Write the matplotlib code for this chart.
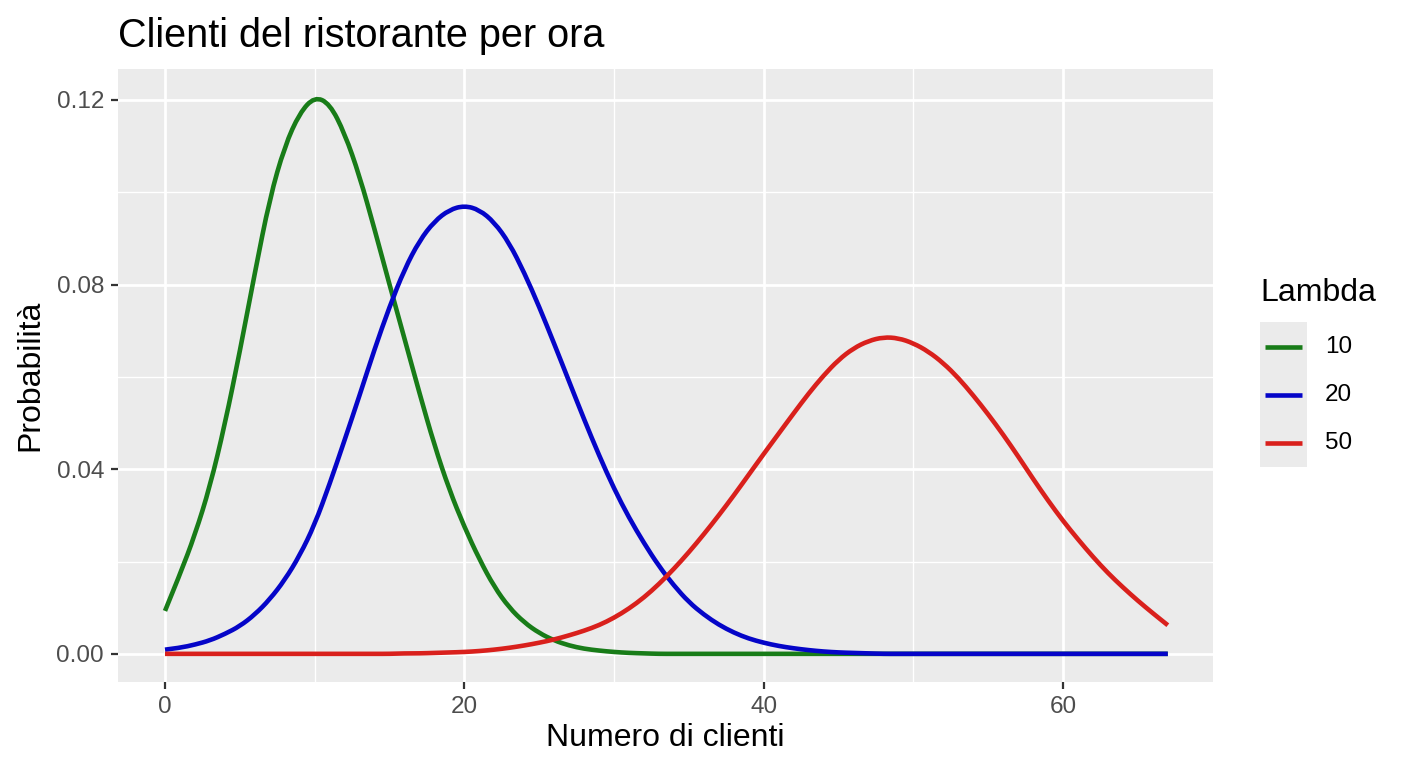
import matplotlib

matplotlib.use("Agg")

import matplotlib.pyplot as plt
from matplotlib.lines import Line2D
from matplotlib.patches import PathPatch, Rectangle
from matplotlib.path import Path
import numpy as np

plt.rcParams["font.family"] = ["Liberation Sans", "DejaVu Sans"]

# values
clienti = list(range(0, 68))

prob_10 = [
    0.0093, 0.0172, 0.0258, 0.0362, 0.0497, 0.0655, 0.0825, 0.0987, 0.1100, 0.1172,
    0.1207, 0.1192, 0.1128, 0.1035, 0.0920, 0.0800, 0.0683, 0.0565, 0.0452, 0.0355,
    0.0275, 0.0205, 0.0145, 0.0100, 0.0068, 0.0045, 0.0029, 0.0018, 0.0011, 0.0007,
    0.0004, 0.0002, 0.0001, 0.0000, 0.0000, 0.0000, 0.0000, 0.0000, 0.0000, 0.0000,
    0.0000, 0.0000, 0.0000, 0.0000, 0.0000, 0.0000, 0.0000, 0.0000, 0.0000, 0.0000,
    0.0000, 0.0000, 0.0000, 0.0000, 0.0000, 0.0000, 0.0000, 0.0000, 0.0000, 0.0000,
    0.0000, 0.0000, 0.0000, 0.0000, 0.0000, 0.0000, 0.0000, 0.0000,
]
prob_20 = [
    0.0009, 0.0013, 0.0020, 0.0029, 0.0043, 0.0060, 0.0085, 0.0118, 0.0160, 0.0213,
    0.0280, 0.0368, 0.0463, 0.0560, 0.0660, 0.0752, 0.0833, 0.0895, 0.0937, 0.0962,
    0.0971, 0.0962, 0.0935, 0.0890, 0.0826, 0.0752, 0.0672, 0.0590, 0.0508, 0.0430,
    0.0358, 0.0295, 0.0240, 0.0190, 0.0148, 0.0112, 0.0085, 0.0063, 0.0046, 0.0033,
    0.0024, 0.0017, 0.0012, 0.0008, 0.0005, 0.0003, 0.0002, 0.0001, 0.0000, 0.0000,
    0.0000, 0.0000, 0.0000, 0.0000, 0.0000, 0.0000, 0.0000, 0.0000, 0.0000, 0.0000,
    0.0000, 0.0000, 0.0000, 0.0000, 0.0000, 0.0000, 0.0000, 0.0000,
]
prob_50 = [
    0.0000, 0.0000, 0.0000, 0.0000, 0.0000, 0.0000, 0.0000, 0.0000, 0.0000, 0.0000,
    0.0000, 0.0000, 0.0000, 0.0000, 0.0000, 0.0000, 0.0001, 0.0001, 0.0002, 0.0003,
    0.0004, 0.0006, 0.0009, 0.0013, 0.0018, 0.0024, 0.0031, 0.0040, 0.0050, 0.0062,
    0.0078, 0.0098, 0.0122, 0.0151, 0.0184, 0.0220, 0.0259, 0.0300, 0.0343, 0.0388,
    0.0433, 0.0477, 0.0521, 0.0564, 0.0603, 0.0637, 0.0662, 0.0678, 0.0686, 0.0684,
    0.0673, 0.0655, 0.0630, 0.0598, 0.0560, 0.0519, 0.0475, 0.0428, 0.0379, 0.0332,
    0.0288, 0.0248, 0.0210, 0.0175, 0.0144, 0.0115, 0.0088, 0.0062,
]

lambdas = ["10", "20", "50"]
colori = ["#187C18", "#0505C8", "#D9201C"]
serie = [prob_10, prob_20, prob_50]

x_ticks = [0, 20, 40, 60]
x_minor = [10, 30, 50]
y_ticks = [0.00, 0.04, 0.08, 0.12]
y_minor = [0.02, 0.06, 0.10]


def smooth_path(xs, ys):
    # quadratic bezier through midpoints, so the line looks like a curve
    pts = np.column_stack([xs, ys])
    verts = [pts[0]]
    codes = [Path.MOVETO]
    for i in range(1, len(pts) - 1):
        mid = (pts[i] + pts[i + 1]) / 2
        verts += [pts[i], mid]
        codes += [Path.CURVE3, Path.CURVE3]
    verts.append(pts[-1])
    codes.append(Path.LINETO)
    return Path(verts, codes)


fig = plt.figure(figsize=(14.08, 7.68), dpi=100)
ax = fig.add_axes([118 / 1408, 1 - 682 / 768, 1095 / 1408, 613 / 768])
ax.set_facecolor("#EBEBEB")

for v in x_minor:
    ax.axvline(v, color="white", lw=1.0, zorder=0)
for v in y_minor:
    ax.axhline(v, color="white", lw=1.0, zorder=0)
for v in x_ticks:
    ax.axvline(v, color="white", lw=2.0, zorder=0)
for v in y_ticks:
    ax.axhline(v, color="white", lw=2.0, zorder=0)

for ys, c in zip(serie, colori):
    ax.add_patch(PathPatch(smooth_path(clienti, ys), facecolor="none", edgecolor=c,
                           lw=3.3, capstyle="butt", zorder=2))

ax.set_xlim(-3.14, 70.02)
ax.set_ylim(-0.0061, 0.1267)
ax.set_xticks(x_ticks)
ax.set_yticks(y_ticks)
ax.set_xticklabels([str(v) for v in x_ticks])
ax.set_yticklabels([f"{v:.2f}" for v in y_ticks])
ax.tick_params(axis="both", length=5, width=1.6, color="#333333",
               labelsize=17.5, labelcolor="#4D4D4D", pad=5)
for s in ax.spines.values():
    s.set_visible(False)

ax.set_xlabel("Numero di clienti", fontsize=23, labelpad=4)
ax.set_ylabel("Probabilità", fontsize=23, labelpad=8)
ax.set_title("Clienti del ristorante per ora", fontsize=28.5, loc="left", pad=16)

# legend drawn by hand to mimic the ggplot guide
fig.text(1260 / 1408, 1 - 293 / 768, "Lambda", fontsize=23, va="center", ha="left")
fig.add_artist(Rectangle((1260 / 1408, 1 - 467 / 768), 47 / 1408, 145 / 768,
                         transform=fig.transFigure, facecolor="#EBEBEB", edgecolor="none"))
for i, (lab, c) in enumerate(zip(lambdas, colori)):
    yk = 1 - (347 + 48 * i) / 768
    fig.add_artist(Line2D([1265 / 1408, 1302 / 1408], [yk, yk], transform=fig.transFigure,
                          color=c, lw=3.3, solid_capstyle="butt"))
    fig.text(1325 / 1408, yk, lab, fontsize=17.5, va="center", ha="left")

fig.savefig("out.png", dpi=100)
